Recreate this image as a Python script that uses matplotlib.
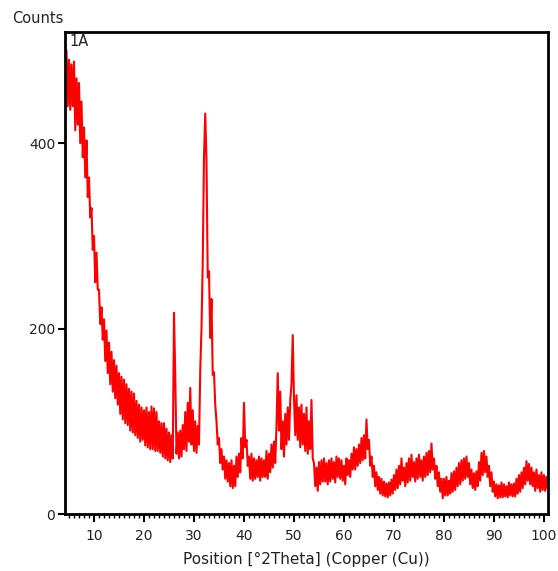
import matplotlib
matplotlib.use("Agg")
import matplotlib.pyplot as plt
import numpy as np
from matplotlib.ticker import MultipleLocator

# 2theta grid: 4.00 .. 100.75, step 0.25 deg (4 readings per degree row)
theta_start = 4.0
theta_step = 0.25

# intensities (counts), one row per degree
counts = [
    508, 455, 500, 440,   # 4
    490, 436, 485, 440,   # 5
    488, 414, 470, 420,   # 6
    465, 400, 445, 385,   # 7
    417, 363, 403, 342,   # 8
    363, 320, 330, 285,   # 9
    300, 250, 282, 242,   # 10
    242, 205, 223, 188,   # 11
    210, 165, 198, 152,   # 12
    185, 140, 175, 132,   # 13
    166, 125, 160, 118,   # 14
    152, 108, 148, 102,   # 15
    145, 98, 140, 96,     # 16
    135, 90, 132, 88,     # 17
    130, 85, 122, 82,     # 18
    118, 78, 115, 80,     # 19
    112, 74, 115, 72,     # 20
    110, 70, 116, 70,     # 21
    114, 68, 110, 68,     # 22
    100, 66, 98, 62,      # 23
    98, 60, 92, 58,       # 24
    88, 56, 85, 60,       # 25
    217, 150, 65, 88,     # 26
    60, 90, 62, 96,       # 27
    70, 110, 68, 120,     # 28
    78, 136, 75, 112,     # 29
    68, 100, 66, 95,      # 30
    75, 155, 200, 272,    # 31
    385, 432, 380, 255,   # 32
    262, 190, 232, 150,   # 33
    153, 118, 100, 75,    # 34
    82, 55, 70, 48,       # 35
    62, 38, 58, 35,       # 36
    55, 30, 58, 28,       # 37
    52, 30, 62, 40,       # 38
    65, 45, 82, 60,       # 39
    120, 72, 80, 52,      # 40
    62, 38, 65, 36,       # 41
    60, 38, 58, 40,       # 42
    62, 36, 60, 40,       # 43
    58, 40, 68, 38,       # 44
    65, 45, 75, 50,       # 45
    78, 55, 95, 152,      # 46
    90, 132, 70, 100,     # 47
    62, 108, 75, 115,     # 48
    80, 122, 140, 193,    # 49
    125, 85, 128, 80,     # 50
    115, 72, 118, 75,     # 51
    108, 68, 115, 65,     # 52
    100, 70, 123, 60,     # 53
    55, 30, 50, 25,       # 54
    56, 32, 58, 35,       # 55
    60, 35, 55, 32,       # 56
    58, 35, 60, 38,       # 57
    56, 34, 62, 40,       # 58
    60, 38, 58, 36,       # 59
    52, 32, 60, 42,       # 60
    58, 40, 65, 48,       # 61
    72, 48, 70, 52,       # 62
    75, 55, 82, 58,       # 63
    85, 60, 102, 70,      # 64
    80, 52, 62, 40,       # 65
    52, 30, 45, 26,       # 66
    40, 22, 38, 20,       # 67
    35, 19, 33, 18,       # 68
    34, 20, 37, 22,       # 69
    42, 26, 48, 28,       # 70
    52, 32, 60, 36,       # 71
    50, 30, 55, 34,       # 72
    60, 36, 64, 40,       # 73
    56, 35, 60, 38,       # 74
    64, 40, 58, 36,       # 75
    62, 40, 66, 42,       # 76
    68, 45, 76, 48,       # 77
    60, 38, 52, 30,       # 78
    45, 24, 38, 17,       # 79
    38, 20, 40, 20,       # 80
    36, 22, 44, 24,       # 81
    46, 26, 50, 30,       # 82
    55, 32, 58, 36,       # 83
    60, 38, 62, 40,       # 84
    55, 32, 48, 28,       # 85
    44, 26, 46, 30,       # 86
    56, 36, 66, 42,       # 87
    68, 45, 62, 40,       # 88
    52, 30, 45, 24,       # 89
    35, 19, 32, 17,       # 90
    31, 18, 34, 18,       # 91
    32, 19, 30, 18,       # 92
    34, 20, 32, 19,       # 93
    33, 19, 38, 22,       # 94
    42, 24, 45, 28,       # 95
    50, 32, 57, 36,       # 96
    54, 32, 50, 30,       # 97
    45, 25, 48, 28,       # 98
    42, 24, 45, 26,       # 99
    42, 25, 40, 28,       # 100
]

two_theta = theta_start + theta_step * np.arange(len(counts))

fig = plt.figure(figsize=(5.58, 5.71), dpi=100)
ax = fig.add_axes([0.1165, 0.0998, 0.8655, 0.8442])

ax.plot(two_theta, counts, color="#ff0000", lw=1.5)

ax.set_xlim(4.2, 100.8)
ax.set_ylim(0, 520)

ax.xaxis.set_major_locator(MultipleLocator(10))
ax.xaxis.set_minor_locator(MultipleLocator(1))
ax.set_yticks([0, 200, 400])

for s in ax.spines.values():
    s.set_linewidth(2)
    s.set_color("black")

ax.tick_params(axis="x", which="major", length=6, width=1.5, labelsize=10,
               labelcolor="#222222", pad=5)
ax.tick_params(axis="x", which="minor", length=3, width=1)
ax.tick_params(axis="y", which="major", length=5, width=1.5, labelsize=10,
               labelcolor="#222222", pad=2)

ax.set_xlabel("Position [°2Theta] (Copper (Cu))", fontsize=11, color="#222222",
              labelpad=6)
fig.text(0.0215, 0.968, "Counts", fontsize=10.5, color="#222222", va="center")
ax.text(0.01, 0.995, "1A", transform=ax.transAxes, fontsize=10.5,
        color="#222222", va="top", ha="left")

fig.savefig("out.png", dpi=100)
